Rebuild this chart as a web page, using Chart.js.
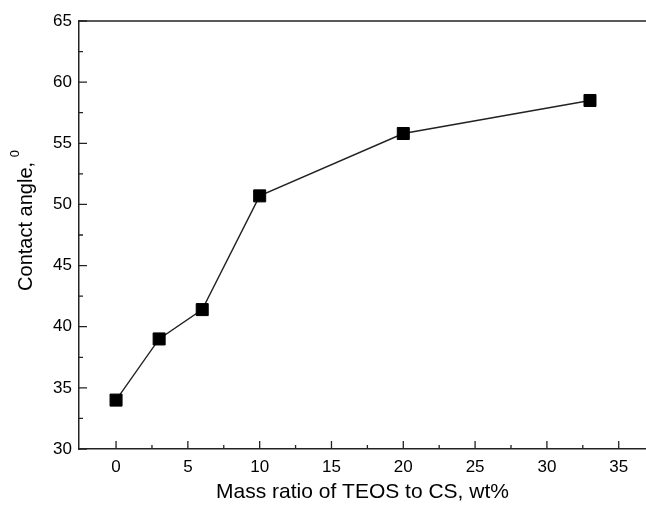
<!DOCTYPE html>
<html>
<head>
<meta charset="utf-8">
<script src="https://cdn.jsdelivr.net/npm/chart.js@4"></script>
<style>
  html, body { margin: 0; padding: 0; background: #fff; }
  #wrap { width: 646px; height: 505px; }
</style>
</head>
<body>
<div id="wrap"><canvas id="angleChart"></canvas></div>
<script>
// TEOS content (wt%) vs. water contact angle (degrees)
var massRatio = [0, 3, 6, 10, 20, 33];
var contactAngle = [34.0, 39.0, 41.4, 50.7, 55.8, 58.5];
var xTicks = [0, 5, 10, 15, 20, 25, 30, 35];
var yTicks = [30, 35, 40, 45, 50, 55, 60, 65];

var FONT = "'Liberation Sans', Arial, sans-serif";

// inward major/minor ticks plus the top frame line
var frameTicks = {
  id: "frameTicks",
  afterDraw: function (chart) {
    var ctx = chart.ctx, a = chart.chartArea;
    var xs = chart.scales.x, ys = chart.scales.y;
    ctx.save();
    ctx.strokeStyle = "#222";
    ctx.lineWidth = 1.5;
    ctx.beginPath();
    ctx.moveTo(a.left, a.top);
    ctx.lineTo(a.right, a.top);
    ctx.stroke();
    ctx.lineWidth = 1.3;
    ctx.beginPath();
    xTicks.forEach(function (v) {
      var px = xs.getPixelForValue(v);
      ctx.moveTo(px, a.bottom); ctx.lineTo(px, a.bottom - 8);
      var mx = xs.getPixelForValue(v + 2.5);
      if (mx < a.right) { ctx.moveTo(mx, a.bottom); ctx.lineTo(mx, a.bottom - 4); }
    });
    yTicks.forEach(function (v) {
      var py = ys.getPixelForValue(v);
      ctx.moveTo(a.left, py); ctx.lineTo(a.left + 8, py);
      if (v < 65) {
        var my = ys.getPixelForValue(v + 2.5);
        ctx.moveTo(a.left, my); ctx.lineTo(a.left + 4, my);
      }
    });
    ctx.stroke();

    // y axis title with superscript degree
    ctx.fillStyle = "#000";
    ctx.translate(26, 220);
    ctx.rotate(-Math.PI / 2);
    ctx.textBaseline = "middle";
    ctx.font = "20px " + FONT;
    var main = "Contact angle, ";
    var w1 = ctx.measureText(main).width;
    ctx.font = "13px " + FONT;
    var w2 = ctx.measureText("0").width;
    var start = -(w1 + w2) / 2;
    ctx.font = "20px " + FONT;
    ctx.textAlign = "left";
    ctx.fillText(main, start, 0);
    ctx.font = "13px " + FONT;
    ctx.fillText("0", start + w1 - 1, -11);
    ctx.restore();
  }
};

new Chart("angleChart", {
  type: "line",
  data: {
    datasets: [{
      data: massRatio.map(function (x, i) { return { x: x, y: contactAngle[i] }; }),
      borderColor: "#222",
      borderWidth: 1.4,
      pointStyle: "rect",
      pointRadius: 8.5,
      pointBorderWidth: 1,
      pointBackgroundColor: "#000",
      pointBorderColor: "#000",
      fill: false,
      tension: 0
    }]
  },
  options: {
    responsive: true,
    maintainAspectRatio: false,
    animation: false,
    layout: { autoPadding: false, padding: { top: 21, right: 0, left: 0, bottom: 0 } },
    plugins: { legend: { display: false }, tooltip: { enabled: false } },
    scales: {
      x: {
        type: "linear",
        min: -2.58,
        max: 36.9,
        afterBuildTicks: function (s) { s.ticks = xTicks.map(function (v) { return { value: v }; }); },
        afterFit: function (s) { s.height = 56; },
        grid: { display: false, drawTicks: false },
        border: { display: true, color: "#222", width: 1.5 },
        ticks: { color: "#000", font: { family: FONT, size: 17 }, padding: 8, maxRotation: 0 },
        title: {
          display: true,
          text: "Mass ratio of TEOS to CS, wt%",
          color: "#000",
          font: { family: FONT, size: 21 },
          padding: { top: 0, bottom: 0 }
        }
      },
      y: {
        type: "linear",
        min: 30,
        max: 65,
        afterBuildTicks: function (s) { s.ticks = yTicks.map(function (v) { return { value: v }; }); },
        afterFit: function (s) { s.width = 79; },
        grid: { display: false, drawTicks: false },
        border: { display: true, color: "#222", width: 1.5 },
        ticks: { color: "#000", font: { family: FONT, size: 17 }, padding: 7 }
      }
    }
  },
  plugins: [frameTicks]
});
</script>
</body>
</html>
